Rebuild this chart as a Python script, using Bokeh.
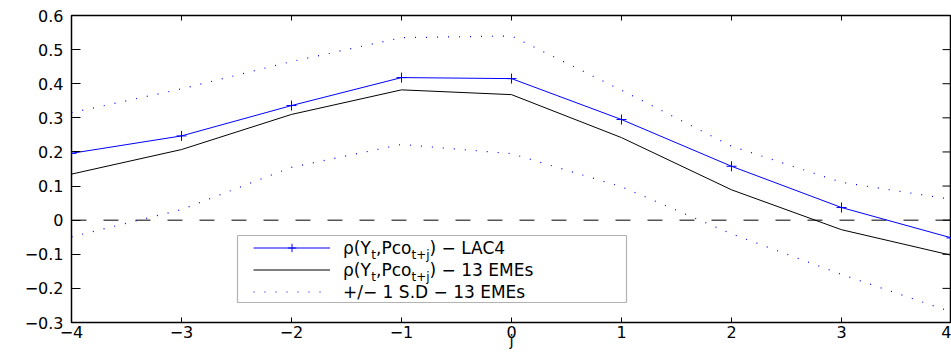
from math import pi
from bokeh.plotting import figure
from bokeh.models import (Range1d, FixedTicker, Span, Legend, LegendItem,
                          BoxAnnotation, Label)
from bokeh.embed import file_html
from bokeh.resources import INLINE

# ---------------- data ----------------
j = [-4, -3, -2, -1, 0, 1, 2, 3, 4]
rho_lac4 = [0.196, 0.247, 0.336, 0.418, 0.415, 0.295, 0.158, 0.037, -0.052]
rho_emes = [0.135, 0.207, 0.310, 0.382, 0.368, 0.242, 0.089, -0.028, -0.103]
sd_upper = [0.315, 0.385, 0.465, 0.535, 0.540, 0.381, 0.217, 0.111, 0.061]
sd_lower = [-0.049, 0.031, 0.155, 0.222, 0.195, 0.098, -0.040, -0.159, -0.269]

x_ticks = [-4, -3, -2, -1, 0, 1, 2, 3, 4]
x_tick_labels = ["\u22124", "\u22123", "\u22122", "\u22121", "0", "1", "2", "3", "4"]
y_ticks = [-0.3, -0.2, -0.1, 0.0, 0.1, 0.2, 0.3, 0.4, 0.5, 0.6]
y_tick_labels = ["\u22120.3", "\u22120.2", "\u22120.1", "0", "0.1", "0.2", "0.3", "0.4", "0.5", "0.6"]
x_label = "j"

# legend text pieces: (text, is_subscript); first piece is the legend's own label
legend_rows = [
    [("\u03c1(Y", 0), ("t", 1), (",Pco", 0), ("t+j", 1), (") \u2212 LAC4", 0)],
    [("\u03c1(Y", 0), ("t", 1), (",Pco", 0), ("t+j", 1), (") \u2212 13 EMEs", 0)],
    [("+/\u2212 1 S.D \u2212 13 EMEs", 0)],
]

FONT = "DejaVu Sans"
TICK_SIZE = 16
MAIN = 17
SUB = 12

# ---------------- figure ----------------
p = figure(width=951, height=354,
           x_range=Range1d(-4, 4), y_range=Range1d(-0.3, 0.6),
           output_backend="svg", toolbar_location=None,
           min_border_left=71, min_border_right=0,
           min_border_top=15, min_border_bottom=32)
p.xgrid.visible = False
p.ygrid.visible = False
p.outline_line_color = "black"
p.outline_line_width = 1.5
p.background_fill_color = "white"
p.border_fill_color = "white"

xa = p.xaxis[0]
xa.ticker = FixedTicker(ticks=x_ticks)
xa.major_label_overrides = {float(t): s for t, s in zip(x_ticks, x_tick_labels)}
ya = p.yaxis[0]
ya.ticker = FixedTicker(ticks=y_ticks)
ya.major_label_overrides = {t: s for t, s in zip(y_ticks, y_tick_labels)}

for ax, tin in ((xa, 5), (ya, 9)):
    ax.axis_line_color = None
    ax.major_tick_in = tin
    ax.major_tick_out = 0
    ax.minor_tick_in = 0
    ax.minor_tick_out = 0
    ax.major_tick_line_color = "black"
    ax.major_label_text_font = FONT
    ax.major_label_text_font_size = f"{TICK_SIZE}px"
    ax.major_label_text_color = "black"
xa.major_label_standoff = 3
ya.major_label_standoff = 8
xa.axis_label = x_label
xa.axis_label_text_font = FONT
xa.axis_label_text_font_size = "15px"
xa.axis_label_text_font_style = "normal"
xa.axis_label_text_color = "black"
xa.axis_label_standoff = -9

# mirrored inner ticks on the right and top frame edges (from the tick arrays)
p.scatter([x_ticks[-1]] * len(y_ticks), y_ticks, marker="dash", size=18,
          line_color="black", line_width=1)
p.scatter(x_ticks, [y_ticks[-1]] * len(x_ticks), marker="dash", angle=pi / 2,
          size=10, line_color="black", line_width=1)

# zero reference line
p.add_layout(Span(location=0, dimension="width", line_color="black",
                  line_width=1, line_dash="15 17", level="underlay"))

# series
r_up = p.line(j, sd_upper, line_color="blue", line_width=1.2, line_dash="1 10")
r_lo = p.line(j, sd_lower, line_color="blue", line_width=1.2, line_dash="1 10")
r_em = p.line(j, rho_emes, line_color="black", line_width=1)
r_lac = p.line(j, rho_lac4, line_color="blue", line_width=1)
r_lac_m = p.scatter(j, rho_lac4, marker="cross", size=10, line_color="blue", line_width=1)

# legend box (frame-relative screen units)
p.add_layout(BoxAnnotation(left=166, right=555, bottom=20, top=87,
                           left_units="screen", right_units="screen",
                           bottom_units="screen", top_units="screen",
                           fill_color="white", fill_alpha=1.0,
                           line_color="black", line_width=1.2, level="annotation"))

legend = Legend(items=[LegendItem(label=legend_rows[0][0][0], renderers=[r_lac, r_lac_m]),
                       LegendItem(label=legend_rows[1][0][0], renderers=[r_em]),
                       LegendItem(label=legend_rows[2][0][0], renderers=[r_up])],
                location=(182, 20), padding=0, spacing=1, margin=0,
                glyph_width=77, glyph_height=21, label_height=21,
                label_standoff=13, label_text_font=FONT,
                label_text_font_size=f"{MAIN}px", label_text_color="black",
                border_line_color=None, background_fill_alpha=0)
p.add_layout(legend)

# remaining legend text pieces (subscripts etc.)
W = {"\u03c1": 0.635, "(": 0.390, ")": 0.390, "Y": 0.611, "t": 0.392, ",": 0.318,
     "P": 0.603, "c": 0.550, "o": 0.612, "+": 0.838, "j": 0.278, " ": 0.318,
     "\u2212": 0.838, "L": 0.557, "A": 0.684, "C": 0.698, "4": 0.636, "1": 0.636,
     "3": 0.636, "E": 0.632, "M": 0.863, "s": 0.521, "/": 0.337, "S": 0.635,
     ".": 0.318, "D": 0.770}


def text_width(s, size):
    return sum(W.get(c, 0.6) for c in s) * size


row_center = [74.5, 52.5, 30.5]
for row, yc in zip(legend_rows, row_center):
    x = 272 + text_width(row[0][0], MAIN)
    for txt, sub in row[1:]:
        size = SUB if sub else MAIN
        y = yc - 7 if sub else yc
        p.add_layout(Label(x=x, y=y, x_units="screen", y_units="screen", text=txt,
                           text_font=FONT, text_font_size=f"{size}px",
                           text_color="black", text_baseline="middle",
                           text_align="left"))
        x += text_width(txt, size)

open("out.html", "w").write(file_html(p, INLINE))
